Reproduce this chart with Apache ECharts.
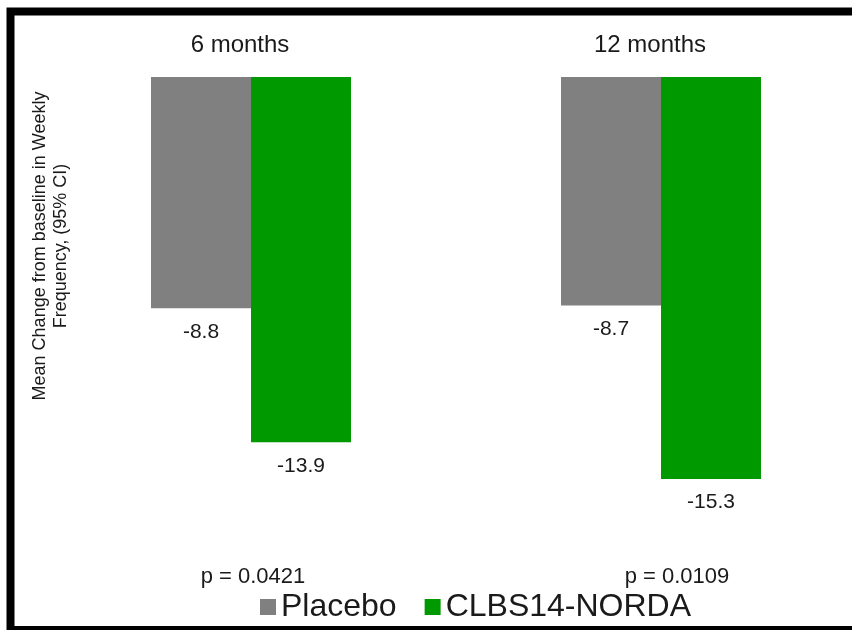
<!DOCTYPE html>
<html>
<head>
<meta charset="utf-8">
<script src="https://cdn.jsdelivr.net/npm/echarts@6/dist/echarts.min.js"></script>
<style>
html,body{margin:0;padding:0;background:#fff;}
#chart{width:852px;height:630px;}
</style>
</head>
<body>
<div id="chart"></div>
<script>
var categories = ['6 months', '12 months'];
var pValues = ['p = 0.0421', 'p = 0.0109'];
var placebo = [-8.8, -8.7];
var clbs = [-13.9, -15.3];
var seriesNames = ['Placebo', 'CLBS14-NORDA'];
var yTitle = 'Mean Change from baseline in Weekly\nFrequency, (95% CI)';

var FONT = 'Liberation Sans, Arial, sans-serif';
var chart = echarts.init(document.getElementById('chart'));
var labelStyle = {
  show: true,
  position: 'bottom',
  distance: 13,
  fontSize: 21,
  fontFamily: FONT,
  color: '#1a1a1a',
  formatter: function (p) { return p.value.toFixed(1); }
};
chart.setOption({
  animation: false,
  backgroundColor: '#fff',
  grid: { left: 46, top: 77, width: 820, height: 473, outerBoundsMode: 'none', containLabel: false },
  legend: {
    data: seriesNames,
    top: 586,
    left: 255,
    itemWidth: 16,
    itemHeight: 16,
    itemGap: 28,
    icon: 'rect',
    textStyle: { fontSize: 32, fontFamily: FONT, color: '#1a1a1a' }
  },
  xAxis: [
    {
      type: 'category',
      data: categories,
      position: 'top',
      axisLine: { show: false },
      axisTick: { show: false },
      axisLabel: { margin: 20, fontSize: 24, fontFamily: FONT, color: '#1a1a1a', padding: [0, 22, 0, 0] }
    },
    {
      type: 'category',
      data: pValues,
      position: 'bottom',
      axisLine: { show: false },
      axisTick: { show: false },
      axisLabel: {
        margin: 16, fontSize: 22, fontFamily: FONT, color: '#1a1a1a',
        formatter: function (v, i) { return '{p' + i + '|' + v + '}'; },
        rich: {
          p0: { fontSize: 22, fontFamily: FONT, color: '#1a1a1a', padding: [0, 0, 0, 4] },
          p1: { fontSize: 22, fontFamily: FONT, color: '#1a1a1a', padding: [0, 0, 0, 32] }
        }
      }
    }
  ],
  yAxis: {
    type: 'value',
    min: -18,
    max: 0,
    show: false,
    splitLine: { show: false }
  },
  series: [
    {
      name: seriesNames[0],
      type: 'bar',
      data: placebo,
      barWidth: 100,
      barGap: '0%',
      itemStyle: { color: '#808080' },
      label: labelStyle
    },
    {
      name: seriesNames[1],
      type: 'bar',
      data: clbs,
      barWidth: 100,
      barGap: '0%',
      itemStyle: { color: '#009900' },
      label: labelStyle
    }
  ],
  graphic: [
    {
      type: 'rect',
      shape: { x: 10.5, y: 11.5, width: 900, height: 618.5 },
      style: { fill: null, stroke: '#000', lineWidth: 8 },
      silent: true
    },
    {
      type: 'text',
      x: 51,
      y: 246,
      rotation: Math.PI / 2,
      style: {
        text: yTitle,
        fontSize: 18,
        fontFamily: FONT,
        fill: '#1a1a1a',
        align: 'center',
        verticalAlign: 'middle',
        lineHeight: 21
      },
      silent: true
    }
  ]
});
</script>
</body>
</html>
